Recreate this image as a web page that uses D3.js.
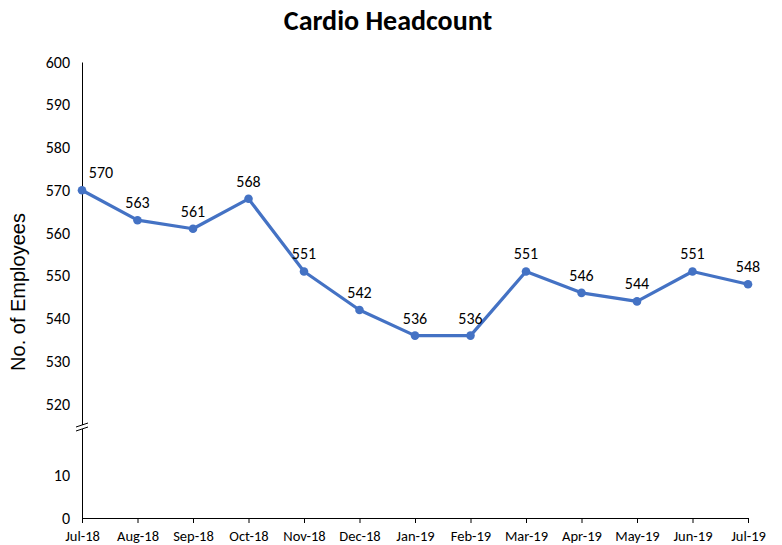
<!DOCTYPE html>
<html>
<head>
<meta charset="utf-8">
<script src="https://cdn.jsdelivr.net/npm/d3@7"></script>
<style>
  body { margin: 0; background: #fff; }
  text { font-family: Carlito, Lato, "Open Sans", sans-serif; fill: #000; }
</style>
</head>
<body>
<svg id="chart" width="782" height="545"></svg>
<script>
const months = ["Jul-18","Aug-18","Sep-18","Oct-18","Nov-18","Dec-18","Jan-19","Feb-19","Mar-19","Apr-19","May-19","Jun-19","Jul-19"];
const headcount = [570, 563, 561, 568, 551, 542, 536, 536, 551, 546, 544, 551, 548];
const yTicks = [0, 10, 520, 530, 540, 550, 560, 570, 580, 590, 600];

const svg = d3.select("#chart");
const plotLeft = 82, plotRight = 748, plotTop = 62, plotBottom = 518;
const font = "Carlito, Lato, 'Open Sans', sans-serif";

// broken axis: 0-10 at the bottom, 520-600 above the break
const x = d3.scalePoint().domain(months).range([plotLeft, plotRight]);
const y = d3.scaleLinear()
    .domain([0, 10, 520, 600])
    .range([plotBottom, 475, 404, plotTop]);
const breakY = 427;

svg.append("text")
    .attr("x", 388).attr("y", 30)
    .attr("text-anchor", "middle")
    .style("font-size", "28px").style("font-weight", "bold")
    .text("Cardio Headcount");

svg.append("text")
    .attr("transform", `translate(25,292) rotate(-90)`)
    .attr("text-anchor", "middle")
    .style("font-family", "'Liberation Sans', Arial, sans-serif")
    .style("font-size", "20px")
    .text("No. of Employees");

// y axis (no tick marks)
const yAxis = svg.append("g")
    .attr("transform", `translate(${plotLeft},0)`)
    .call(d3.axisLeft(y).tickValues(yTicks).tickSize(0).tickPadding(12));
yAxis.select(".domain").attr("stroke", "#000");
yAxis.selectAll("text").style("font-size", "16px").style("font-family", font);

// x axis
const xAxis = svg.append("g")
    .attr("transform", `translate(0,${plotBottom})`)
    .call(d3.axisBottom(x).tickSizeInner(5).tickSizeOuter(0).tickPadding(8));
xAxis.select(".domain").attr("stroke", "#000");
xAxis.selectAll("line").attr("stroke", "#000");
xAxis.selectAll("text").style("font-size", "14.5px").style("font-family", font);

// break marks
const brk = svg.append("g").attr("transform", `translate(${plotLeft},${breakY})`);
brk.append("rect").attr("x", -2).attr("y", -2).attr("width", 4).attr("height", 4).attr("fill", "#fff");
[-2, 2].forEach(o => {
  brk.append("line")
      .attr("x1", -6).attr("y1", o + 2).attr("x2", 6).attr("y2", o - 2)
      .attr("stroke", "#000").attr("stroke-width", 1);
});

const data = months.map((m, i) => ({ m, v: headcount[i] }));

svg.append("path")
    .datum(data)
    .attr("fill", "none")
    .attr("stroke", "#4472C4")
    .attr("stroke-width", 3.2)
    .attr("stroke-linejoin", "round")
    .attr("d", d3.line().x(d => x(d.m)).y(d => y(d.v)));

svg.append("g").attr("fill", "#4472C4")
  .selectAll("circle")
  .data(data)
  .join("circle")
    .attr("cx", d => x(d.m))
    .attr("cy", d => y(d.v))
    .attr("r", 4.3);

svg.append("g")
  .selectAll("text")
  .data(data)
  .join("text")
    .attr("x", (d, i) => x(d.m) + (i === 0 ? 19 : 0))
    .attr("y", d => y(d.v) - 12)
    .attr("text-anchor", "middle")
    .style("font-size", "16px")
    .text(d => d.v);
</script>
</body>
</html>
